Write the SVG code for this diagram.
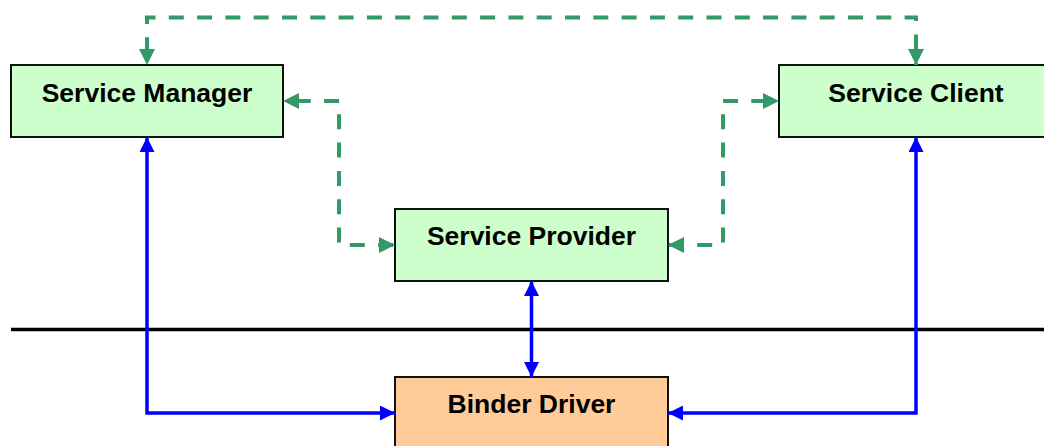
<svg xmlns="http://www.w3.org/2000/svg" width="1044" height="446" viewBox="0 0 1044 446">
  <style>
    .box { stroke: #111; stroke-width: 2; }
    .user { fill: #CCFFCC; }
    .kernel { fill: #FFCC99; }
    .label { font-family: "Liberation Sans", Arial, sans-serif; font-weight: bold; font-size: 26.5px; fill: #000; text-anchor: middle; }
    .ipc { fill: none; stroke: #339966; stroke-width: 4; stroke-dasharray: 15 13.3; stroke-dashoffset: 15.6; marker-start: url(#arrowGreen); marker-end: url(#arrowGreen); }
    .bind { fill: none; stroke: #0000FF; stroke-width: 3.5; }
  </style>
  <defs>
    <marker id="arrowGreen" viewBox="0 0 16 16" markerWidth="16" markerHeight="16" refX="16" refY="8" markerUnits="userSpaceOnUse" orient="auto-start-reverse">
      <path d="M0,0 L16,8 L0,16 Z" fill="#339966"/>
    </marker>
    <marker id="arrowBlue" viewBox="0 0 15 15" markerWidth="15" markerHeight="15" refX="15" refY="7.5" markerUnits="userSpaceOnUse" orient="auto-start-reverse">
      <path d="M0,0 L15,7.5 L0,15 Z" fill="#0000FF"/>
    </marker>
  </defs>

  <rect width="1044" height="446" fill="#FFFFFF"/>

  <!-- user space / kernel space boundary -->
  <g id="boundary">
    <line x1="11" y1="329.5" x2="1044" y2="329.5" stroke="#000" stroke-width="3.5"/>
  </g>

  <g id="service-manager">
    <rect class="box user" x="11" y="65" width="272" height="72"/>
    <text class="label" x="147" y="101.5">Service Manager</text>
  </g>

  <g id="service-client">
    <rect class="box user" x="779" y="65" width="272" height="72"/>
    <text class="label" x="916" y="101.5">Service Client</text>
  </g>

  <g id="service-provider">
    <rect class="box user" x="395" y="209" width="273" height="72"/>
    <text class="label" x="531.5" y="245">Service Provider</text>
  </g>

  <g id="binder-driver">
    <rect class="box kernel" x="395" y="377" width="273" height="74"/>
    <text class="label" x="531.5" y="413">Binder Driver</text>
  </g>

  <g id="connectors">
    <!-- logical IPC paths (dashed) -->
    <path class="ipc" d="M147,65 V17.5 H916 V65"/>
    <path class="ipc" d="M283,101 H339 V245 H395"/>
    <path class="ipc" d="M779,101 H723 V245 H668"/>
    <!-- actual transport through the driver (solid) -->
    <path class="bind" d="M147,137 V413 H395" marker-start="url(#arrowBlue)" marker-end="url(#arrowBlue)"/>
    <path class="bind" d="M916,137 V413 H668" marker-start="url(#arrowBlue)" marker-end="url(#arrowBlue)"/>
    <path class="bind" d="M531.5,281 V377" marker-start="url(#arrowBlue)" marker-end="url(#arrowBlue)"/>
  </g>
</svg>
